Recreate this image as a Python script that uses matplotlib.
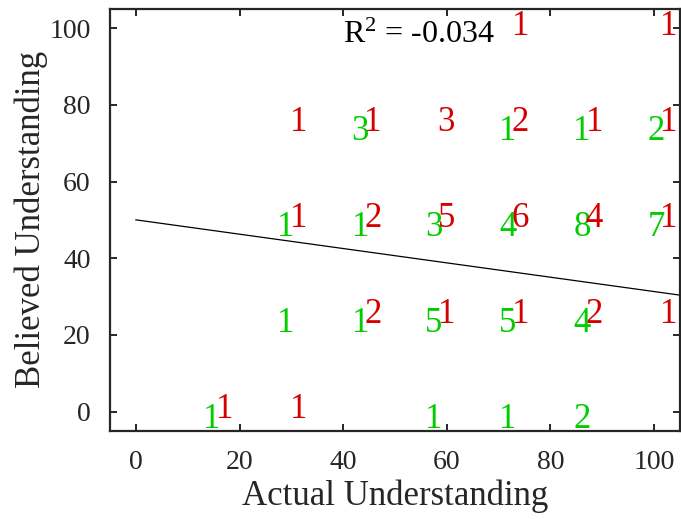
#!/usr/bin/env python3
"""Believed vs actual understanding: counts per cell, plus regression line."""

import matplotlib
matplotlib.use("Agg")
import matplotlib.pyplot as plt

# Counts drawn in green (group A)
green_x = [14.3, 57.1, 71.4, 85.7,
           28.6, 42.9, 57.1, 71.4, 85.7,
           28.6, 42.9, 57.1, 71.4, 85.7, 100.0,
           42.9, 71.4, 85.7, 100.0]
green_y = [0, 0, 0, 0,
           25, 25, 25, 25, 25,
           50, 50, 50, 50, 50, 50,
           75, 75, 75, 75]
green_n = [1, 1, 1, 2,
           1, 1, 5, 5, 4,
           1, 1, 3, 4, 8, 7,
           3, 1, 1, 2]

# Counts drawn in red (group B)
red_x = [14.3, 28.6,
         42.9, 57.1, 71.4, 85.7, 100.0,
         28.6, 42.9, 57.1, 71.4, 85.7, 100.0,
         28.6, 42.9, 57.1, 71.4, 85.7, 100.0,
         71.4, 100.0]
red_y = [0, 0,
         25, 25, 25, 25, 25,
         50, 50, 50, 50, 50, 50,
         75, 75, 75, 75, 75, 75,
         100, 100]
red_n = [1, 1,
         2, 1, 1, 2, 1,
         1, 2, 5, 6, 4, 1,
         1, 1, 3, 2, 1, 1,
         1, 1]

# Fitted line
fit_intercept = 50.0
fit_slope = -0.187
fit_x = [0, 105]
r_squared = -0.034

GREEN = "#00cc00"
RED = "#d40000"

plt.rcParams["font.family"] = ["Liberation Serif", "DejaVu Serif"]
plt.rcParams["mathtext.fontset"] = "custom"
plt.rcParams["mathtext.rm"] = "Liberation Serif"
plt.rcParams["mathtext.it"] = "Liberation Serif"

fig = plt.figure(figsize=(6.81, 5.19), dpi=100)
ax = fig.add_axes([0.1615, 0.1701, 0.8370, 0.8126])

for x, y, n in zip(green_x, green_y, green_n):
    ax.text(x + 0.4, y - 4.2, str(n), color=GREEN, fontsize=25,
            ha="center", va="baseline")
for x, y, n in zip(red_x, red_y, red_n):
    ax.text(x + 2.8, y - 1.8, str(n), color=RED, fontsize=25,
            ha="center", va="baseline")

fit_y = [fit_intercept + fit_slope * x for x in fit_x]
ax.plot(fit_x, fit_y, color="black", linewidth=0.9)

ax.text(40, 96, r"R$^{2}$ = " + f"{r_squared:.3f}", fontsize=23,
        ha="left", va="baseline")

ax.set_xlim(-5, 105)
ax.set_ylim(-5, 105)
ax.set_xticks([0, 20, 40, 60, 80, 100])
ax.set_yticks([0, 20, 40, 60, 80, 100])
ax.tick_params(direction="in", length=5, width=1.4, labelsize=20, pad=14,
               top=True, right=True, colors="#262626")
for spine in ax.spines.values():
    spine.set_linewidth(1.6)
    spine.set_color("#262626")

ax.set_xlabel("Actual Understanding", fontsize=25, color="#262626", labelpad=3)
ax.set_ylabel("Believed Understanding", fontsize=25, color="#262626", labelpad=1)

fig.savefig("out.png", dpi=100)
